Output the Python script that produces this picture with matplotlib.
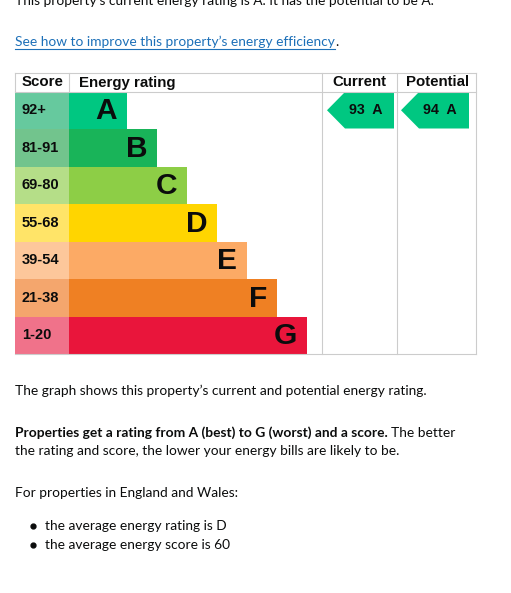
import matplotlib.pyplot as plt
from matplotlib.patches import Rectangle, Polygon

# Daten der Energieskala
ratings = ['A', 'B', 'C', 'D', 'E', 'F', 'G']
score_ranges = ['92+', '81-91', '69-80', '55-68', '39-54', '21-38', '1-20']
band_colors = ['#00c781', '#19b459', '#8dce46', '#ffd500', '#fcaa65', '#ef8023', '#e9153b']
score_colors = ['#66c99e', '#72c48d', '#b5de88', '#ffe468', '#fdc79b', '#f4a66d', '#f0728a']
current_score, current_rating = 93, 'A'
potential_score, potential_rating = 94, 'A'

W, H = 511, 593
TXT = '#0b0c0c'
GRID = '#cccccc'
BODY = 'Lato'
FS = 9.9

fig = plt.figure(figsize=(W / 100, H / 100), dpi=100)
ax = fig.add_axes([0, 0, 1, 1])
ax.set_xlim(0, W)
ax.set_ylim(H, 0)
ax.axis('off')

# Text oben (im Original abgeschnitten)
ax.text(15, 5, 'This property\u2019s current energy rating is A. It has the potential to be A.',
        fontsize=FS, color=TXT, family=BODY, va='baseline')
link = ax.text(15, 42, 'See how to improve this property\u2019s energy efficiency',
               fontsize=FS, color='#1d70b8', family=BODY, va='center')
fig.canvas.draw()
bb = link.get_window_extent().transformed(ax.transData.inverted())
ax.plot([bb.x0, bb.x1], [49, 49], color='#1d70b8', lw=0.8)
ax.text(bb.x1 + 0.5, 42, '.', fontsize=FS, color=TXT, family=BODY, va='center')

# Tabelle
left, right = 15, 476
col_score, col_cur, col_pot = 69, 322, 397
top, head_bot, bottom = 73, 91.5, 354
row_h = (bottom - head_bot) / len(ratings)

ax.plot([left, right], [top, top], color=GRID, lw=0.8)
ax.plot([left, right], [head_bot, head_bot], color=GRID, lw=0.8)
ax.plot([left, right], [bottom, bottom], color=GRID, lw=0.8)
for x in [left, col_score]:
    ax.plot([x, x], [top, head_bot], color=GRID, lw=0.8)
for x in [col_cur, col_pot, right]:
    ax.plot([x, x], [top, bottom], color=GRID, lw=0.8)

hfont = dict(fontsize=10.8, fontweight='bold', color=TXT, family='Liberation Sans', va='center')
ax.text(22, 82.5, 'Score', **hfont)
ax.text(79, 82.5, 'Energy rating', **hfont)
ax.text((col_cur + col_pot) / 2, 82.5, 'Current', ha='center', **hfont)
ax.text((col_pot + right) / 2 + 1, 82.5, 'Potential', ha='center', **hfont)

for i, (r, s) in enumerate(zip(ratings, score_ranges)):
    y0 = head_bot + i * row_h
    ax.add_patch(Rectangle((left, y0), col_score - left, row_h, color=score_colors[i], lw=0))
    bar_end = 127 + 30 * i
    ax.add_patch(Rectangle((col_score, y0), bar_end - col_score, row_h, color=band_colors[i], lw=0))
    ax.text(22, y0 + row_h / 2, s, fontsize=10.5, fontweight='bold', color=TXT,
            family='Liberation Sans', va='center')
    ax.text(bar_end - 10, y0 + row_h / 2 + 1, r, fontsize=21.5, fontweight='bold', color=TXT,
            family='Liberation Sans', va='center', ha='right')


def arrow(x0, x1, score, rating):
    i = ratings.index(rating)
    y0 = head_bot + i * row_h + 0.5
    y1 = y0 + row_h - 1
    ym = (y0 + y1) / 2
    pts = [(x0, ym), (x0 + 18, y0), (x1, y0), (x1, y1), (x0 + 18, y1)]
    ax.add_patch(Polygon(pts, closed=True, color=band_colors[i], lw=0))
    ax.text((x0 + 18 + x1) / 2 - 4, ym, f'{score}  {rating}', fontsize=10.3, fontweight='bold',
            color=TXT, family='Liberation Sans', va='center', ha='center')


arrow(col_cur + 5, col_cur + 72, current_score, current_rating)
arrow(col_pot + 4, col_pot + 72, potential_score, potential_rating)

# Text unten
body = dict(fontsize=FS, color=TXT, family=BODY, va='center')
ax.text(15, 391, 'The graph shows this property\u2019s current and potential energy rating.', **body)
b = ax.text(15, 433, 'Properties get a rating from A (best) to G (worst) and a score.',
            fontweight='bold', **body)
fig.canvas.draw()
bb = b.get_window_extent().transformed(ax.transData.inverted())
ax.text(bb.x1 + 3, 433, 'The better', **body)
ax.text(15, 451, 'the rating and score, the lower your energy bills are likely to be.', **body)
ax.text(15, 493, 'For properties in England and Wales:', **body)
for y, t in [(526, 'the average energy rating is D'), (545, 'the average energy score is 60')]:
    ax.plot(33, y, 'o', color=TXT, ms=3.5)
    ax.text(45, y, t, **body)

fig.savefig('out.png', dpi=100, facecolor='white')
plt.close()
